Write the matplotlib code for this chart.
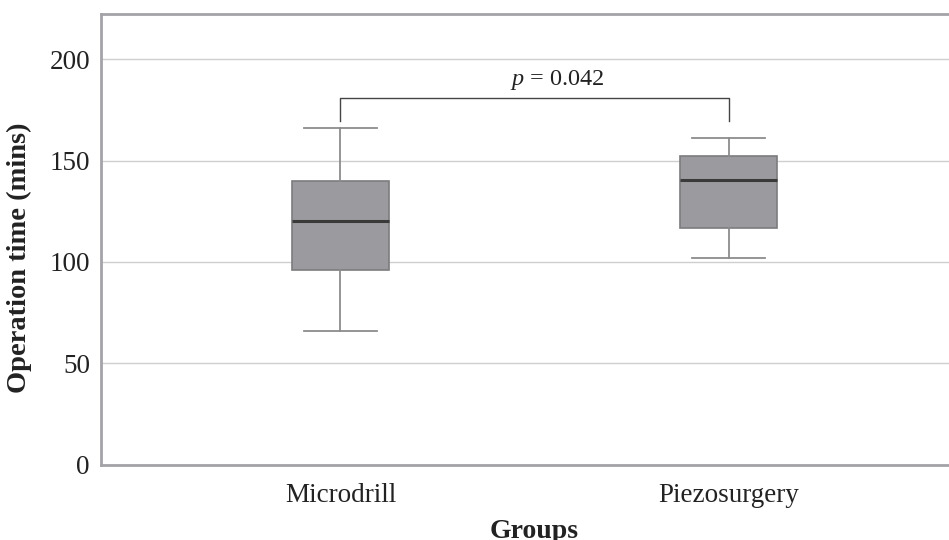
import matplotlib
matplotlib.use('Agg')
import matplotlib.pyplot as plt

# data (mins)
groups = ['Microdrill', 'Piezosurgery']
whislo = [66, 102]
q1 = [96, 117]
med = [120, 140.5]
q3 = [140, 152.5]
whishi = [166, 161]
p_text = '= 0.042'
bracket_y = 181
bracket_leg = 169.5

plt.rcParams['font.family'] = ['Liberation Serif', 'DejaVu Serif']
plt.rcParams['mathtext.fontset'] = 'custom'
plt.rcParams['mathtext.it'] = 'Liberation Serif:italic'
plt.rcParams['mathtext.rm'] = 'Liberation Serif'

fig = plt.figure(figsize=(9.49, 5.40), dpi=100)
ax = fig.add_axes([101/949, 1-464.6/540, 1.02 - 101/949, (464.6-14)/540])

stats = []
for i in range(len(groups)):
    stats.append({'whislo': whislo[i], 'q1': q1[i], 'med': med[i],
                  'q3': q3[i], 'whishi': whishi[i], 'fliers': [],
                  'label': groups[i]})

gray_line = '#8c8c8e'
ax.bxp(stats, positions=[1, 2], widths=0.25, patch_artist=True,
       showfliers=False,
       boxprops=dict(facecolor='#9b9b9f', edgecolor='#7c7c7e', linewidth=1.2),
       medianprops=dict(color='#3a3a3a', linewidth=2.2),
       whiskerprops=dict(color=gray_line, linewidth=1.3),
       capprops=dict(color=gray_line, linewidth=1.3),
       capwidths=0.19, zorder=3)

# significance bracket
ax.plot([1, 1, 2, 2], [bracket_leg, bracket_y, bracket_y, bracket_leg],
        color='#444444', linewidth=1.0, zorder=3)
ax.text(1.56, bracket_y + 2.8, r'$p$ ' + p_text, ha='center', va='bottom',
        fontsize=17.5, color='#222222')

ax.set_ylim(0, 222.4)
ax.set_xlim(0.383, 2.617)
ax.set_yticks([0, 50, 100, 150, 200])
ax.yaxis.grid(True, color='#cfcfcf', linewidth=1.0, zorder=0)
ax.set_axisbelow(True)
ax.tick_params(axis='both', length=0, labelsize=19.5, colors='#222222')
ax.tick_params(axis='y', pad=8)
ax.tick_params(axis='x', pad=13)
ax.set_xticks([1, 2])
ax.set_xticklabels(groups)

for s in ['left', 'top', 'bottom']:
    ax.spines[s].set_color('#a3a3a8')
    ax.spines[s].set_linewidth(2.0)
ax.spines['right'].set_visible(False)

ax.set_ylabel('Operation time (mins)', fontsize=20.5, fontweight='bold',
              color='#222222')
ax.yaxis.set_label_coords(-0.08, 0.46)
ax.set_xlabel('Groups', fontsize=20, fontweight='bold', color='#222222')
ax.xaxis.set_label_coords(0.5, -0.12)

fig.savefig('out.png', dpi=100)
